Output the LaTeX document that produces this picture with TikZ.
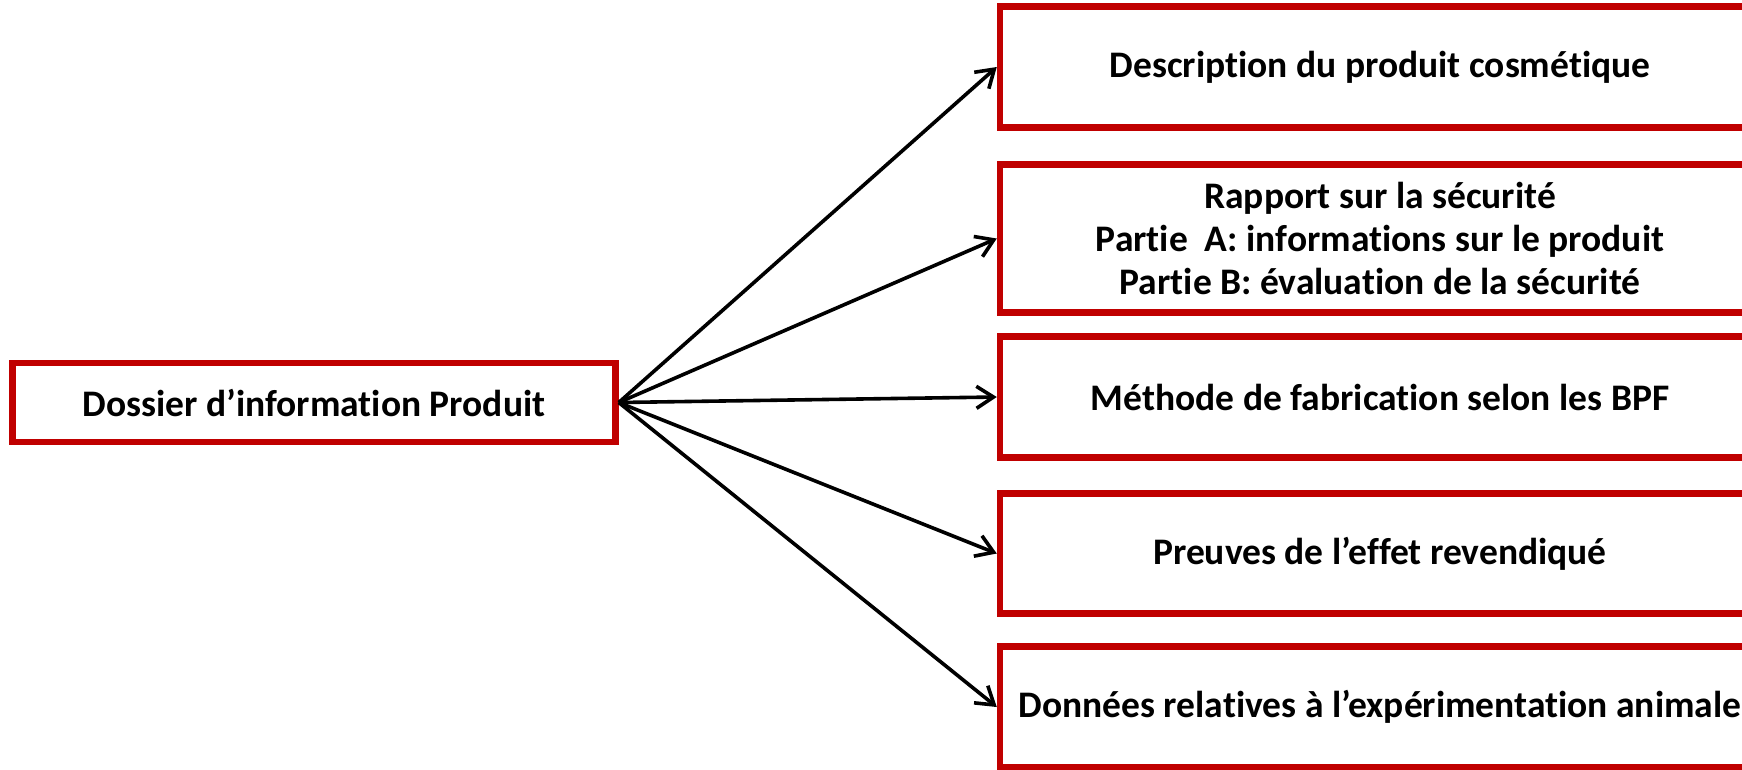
\documentclass[tikz,border=0pt]{standalone}
\usepackage{fontspec}
\setmainfont{Carlito}[Ligatures={NoCommon}]
\usetikzlibrary{arrows.meta}
\definecolor{boxred}{HTML}{C00000}
\begin{document}
\begin{tikzpicture}[x=1pt,y=-1pt,
  box/.style={draw=boxred, line width=6.5pt, fill=white, rectangle, inner sep=0pt,
    align=center, font=\fontsize{37.5}{43}\selectfont\bfseries},
  rbox/.style={box, minimum width=760pt},
  conn/.style={line width=3.6pt, black, -{Straight Barb[length=17pt,width=22pt,line width=3.6pt]}}]
\useasboundingbox (0,0) rectangle (1742,769);
\clip (0,0) rectangle (1742,769);
\node[box, minimum width=603pt, minimum height=79pt] (src) at (314,402.5) {Dossier d’information Produit};
\node[rbox, minimum height=121pt] (b1) at (1380,67) {Description du produit cosmétique};
\node[rbox, minimum height=148pt] (b2) at (1380,238.5) {Rapport sur la sécurité\\Partie\ \ A: informations sur le produit\\Partie B: évaluation de la sécurité};
\node[rbox, minimum height=121pt] (b3) at (1380,397) {Méthode de fabrication selon les BPF};
\node[rbox, minimum height=120pt] (b4) at (1380,553.5) {Preuves de l’effet revendiqué};
\node[rbox, minimum height=121pt] (b5) at (1380,707) {Données relatives à l’expérimentation animale};
\foreach \b in {b1,b2,b3,b4,b5}
  \draw[conn] (src.east) -- (\b.west);
\end{tikzpicture}
\end{document}
